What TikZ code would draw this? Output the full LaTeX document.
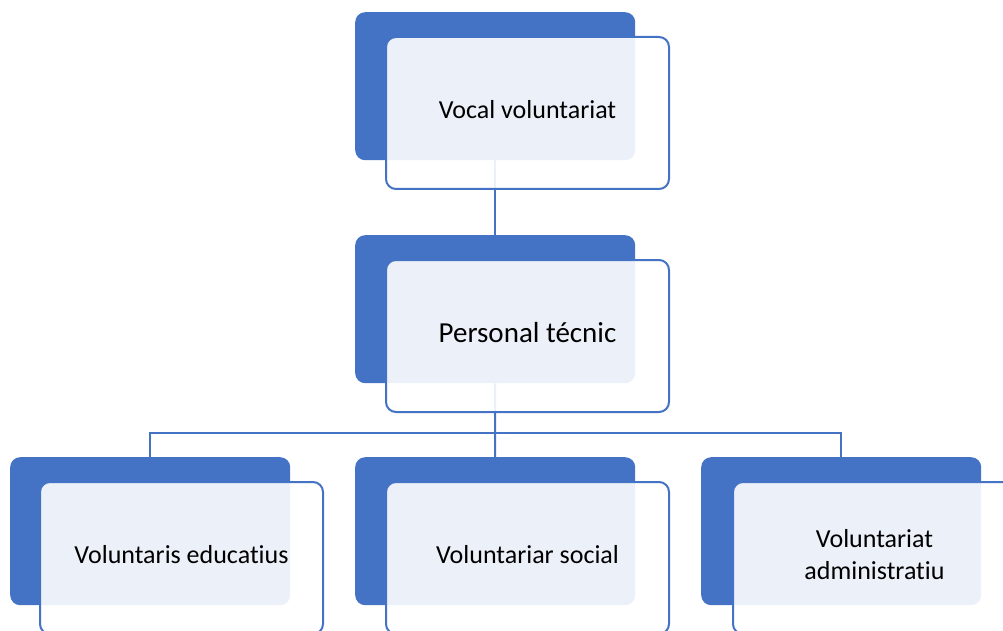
\documentclass[tikz,border=0pt]{standalone}
\usepackage{fontspec}
\setmainfont{Carlito}[Ligatures=CommonOff]
\usepackage{tikz}
\definecolor{accent}{HTML}{4472C4}
\tikzset{
  backbox/.style={rectangle, rounded corners=10pt, fill=accent, inner sep=0pt,
    minimum width=280pt, minimum height=148pt, anchor=north west},
  frontbox/.style={rectangle, rounded corners=10pt, fill=white, fill opacity=0.9,
    text opacity=1, draw=accent, line width=2pt, inner sep=0pt, align=center,
    minimum width=283pt, minimum height=152pt, anchor=north west, text depth=8pt,
    font=\fontsize{26}{32}\selectfont},
  link/.style={draw=accent, line width=2pt}
}

\begin{document}
\begin{tikzpicture}[x=1pt,y=-1pt]
    \useasboundingbox (0,0) rectangle (1003,631);
    \node[backbox] (vocalback) at (355,12) {};
    \node[backbox] (personalback) at (355,235) {};
    \node[backbox] (eduback) at (10,457) {};
    \node[backbox] (socialback) at (355,457) {};
    \node[backbox] (adminback) at (701,457) {};
    \coordinate (bus) at (495,433);
    \draw[link] (vocalback.south) -- (personalback.north);
    \draw[link] (personalback.south) -- (bus);
    \draw[link] (eduback.north) |- (bus) -| (adminback.north);
    \draw[link] (bus) -- (socialback.north);
    \node[frontbox] (vocal) at (385,36) {Vocal voluntariat};
    \node[frontbox, font=\fontsize{29}{35}\selectfont] (personal) at (385,259) {Personal técnic};
    \node[frontbox] (edu) at (39,481) {Voluntaris educatius};
    \node[frontbox] (social) at (385,481) {Voluntariar social};
    \node[frontbox] (admin) at (732,481) {Voluntariat\\administratiu};
  \end{tikzpicture}
\end{document}
